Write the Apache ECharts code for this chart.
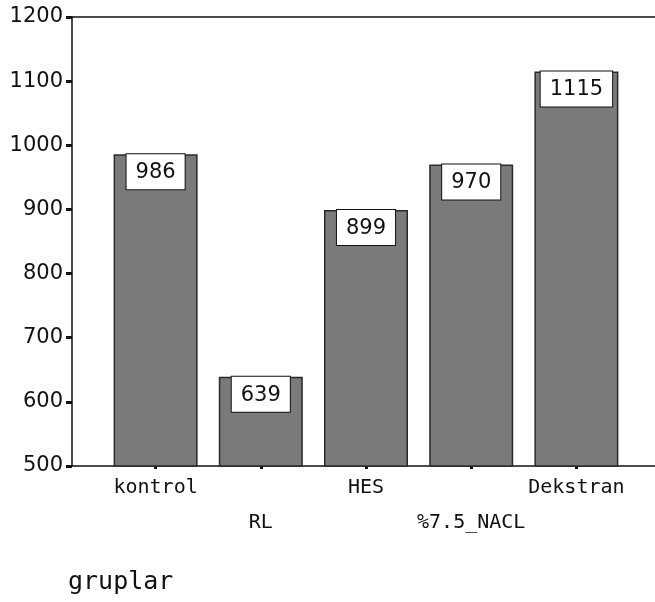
<!DOCTYPE html>
<html>
<head>
<meta charset="utf-8">
<script src="https://cdn.jsdelivr.net/npm/echarts@6/dist/echarts.min.js"></script>
<style>
  html, body { margin: 0; padding: 0; background: #fff; }
  #chart { width: 655px; height: 602px; }
</style>
</head>
<body>
<div id="chart"></div>
<script>
// data
const groups = ['kontrol', 'RL', 'HES', '%7.5_NACL', 'Dekstran']
const values = [986, 639, 899, 970, 1115]
const yMin = 500
const yMax = 1200
const yStep = 100

const chart = echarts.init(document.getElementById('chart'))

const plotTop = 17
const plotHeight = 449

chart.setOption({
  animation: false,
  backgroundColor: '#fff',
  title: {
    text: 'gruplar',
    left: 63,
    top: 565,
    textStyle: {
      fontFamily: 'DejaVu Sans Mono',
      fontSize: 25,
      fontWeight: 'normal',
      color: '#111'
    }
  },
  grid: [
    // frame: left axis, bottom line, top line
    { left: 72, right: 0, top: plotTop, height: plotHeight },
    // bars
    { left: 103, width: 526, top: plotTop, height: plotHeight }
  ],
  xAxis: [
    {
      gridIndex: 0,
      type: 'value',
      min: 0,
      max: 1,
      position: 'bottom',
      axisLine: { show: true, lineStyle: { color: '#111', width: 1.5 } },
      axisTick: { show: false },
      axisLabel: { show: false },
      splitLine: { show: false }
    },
    {
      gridIndex: 0,
      type: 'value',
      min: 0,
      max: 1,
      position: 'top',
      axisLine: { show: true, lineStyle: { color: '#111', width: 1.5 } },
      axisTick: { show: false },
      axisLabel: { show: false },
      splitLine: { show: false }
    },
    {
      gridIndex: 1,
      type: 'category',
      data: groups,
      axisLine: { show: false },
      axisTick: {
        show: true,
        alignWithLabel: true,
        interval: 0,
        length: 3,
        lineStyle: { color: '#111', width: 3 }
      },
      axisLabel: {
        interval: 0,
        margin: 4,
        lineHeight: 35,
        verticalAlign: 'top',
        fontFamily: 'DejaVu Sans Mono',
        fontSize: 20,
        color: '#111',
        formatter: (v, i) => (i % 2 ? '\n' + v : v)
      }
    }
  ],
  yAxis: [
    {
      gridIndex: 0,
      type: 'value',
      min: yMin,
      max: yMax,
      interval: yStep,
      axisLine: { show: true, lineStyle: { color: '#111', width: 1.5 } },
      axisTick: { show: true, length: 6, lineStyle: { color: '#111', width: 3 } },
      axisLabel: {
        margin: 9,
        fontFamily: 'DejaVu Sans',
        fontSize: 21,
        color: '#111',
        formatter: v => String(v)
      },
      splitLine: { show: false }
    },
    {
      gridIndex: 1,
      type: 'value',
      min: yMin,
      max: yMax,
      show: false,
      splitLine: { show: false }
    }
  ],
  series: [{
    type: 'bar',
    xAxisIndex: 2,
    yAxisIndex: 1,
    data: values,
    barWidth: 84,
    itemStyle: {
      color: '#7a7a7a',
      borderColor: '#2a2a2a',
      borderWidth: 1.5
    },
    label: {
      show: true,
      position: 'insideTop',
      distance: 0,
      backgroundColor: '#fff',
      borderColor: '#111',
      borderWidth: 1,
      padding: [7, 9, 5, 9],
      fontFamily: 'DejaVu Sans',
      fontSize: 21,
      lineHeight: 23,
      color: '#111'
    }
  }]
})
</script>
</body>
</html>
